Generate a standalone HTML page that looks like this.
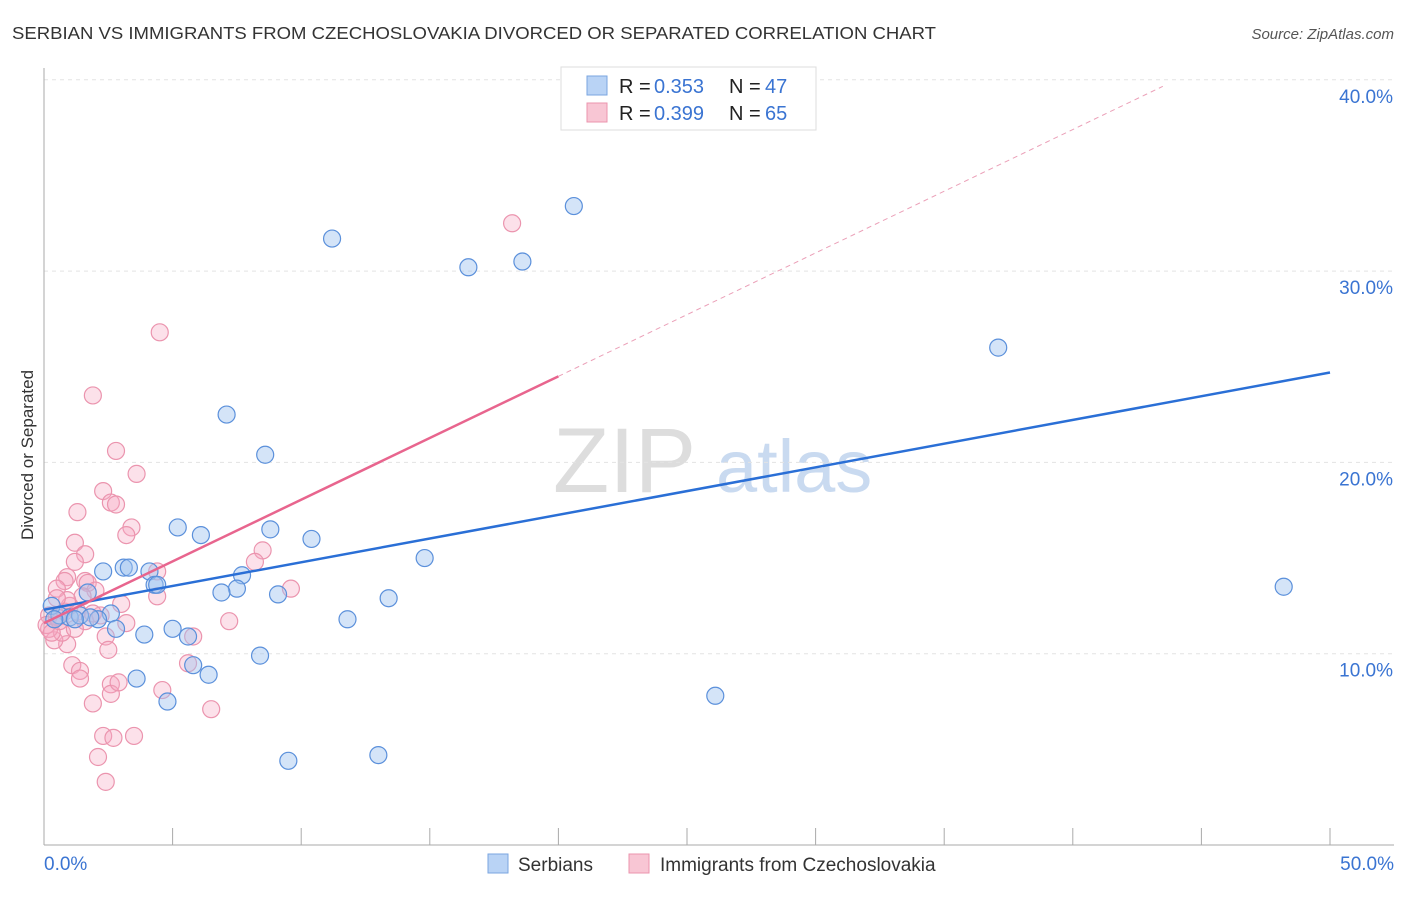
<!DOCTYPE html>
<html><head><meta charset="utf-8"><style>
body{margin:0;background:#fff;font-family:"Liberation Sans",sans-serif;}
svg text{font-family:"Liberation Sans",sans-serif;}
</style></head><body>
<svg id="chart" width="1406" height="892" xmlns="http://www.w3.org/2000/svg">
<text x="12" y="39" font-size="17.5" fill="#333" textLength="924" lengthAdjust="spacingAndGlyphs">SERBIAN VS IMMIGRANTS FROM CZECHOSLOVAKIA DIVORCED OR SEPARATED CORRELATION CHART</text>
<text x="1394" y="39" font-size="15" fill="#555" font-style="italic" text-anchor="end">Source: ZipAtlas.com</text>
<text x="33" y="455" font-size="17" fill="#333" text-anchor="middle" transform="rotate(-90 33 455)">Divorced or Separated</text>
<g><text x="553" y="492" font-size="92" fill="#ddd" font-family="Liberation Serif,serif">ZIP</text><text x="716" y="492" font-size="74" fill="#c9daf0">atlas</text></g>
<g id="grid"></g><g id="marks"></g><g id="lines"></g>
<g>
<rect x="561" y="67" width="255" height="63" fill="#fff" stroke="#ddd"/>
<rect x="587" y="76" width="20" height="19" fill="#b9d3f5" stroke="#7aa6e0"/>
<rect x="587" y="103" width="20" height="19" fill="#f8c6d4" stroke="#eb94ae"/>
<text x="619" y="93" font-size="20" fill="#222">R = </text><text x="654" y="93" font-size="20" fill="#3a74d2">0.353</text>
<text x="729" y="93" font-size="20" fill="#222">N = </text><text x="765" y="93" font-size="20" fill="#3a74d2">47</text>
<text x="619" y="120" font-size="20" fill="#222">R = </text><text x="654" y="120" font-size="20" fill="#3a74d2">0.399</text>
<text x="729" y="120" font-size="20" fill="#222">N = </text><text x="765" y="120" font-size="20" fill="#3a74d2">65</text>
</g>
<g>
<rect x="488" y="854" width="20" height="19" fill="#b9d3f5" stroke="#7aa6e0"/>
<text x="518" y="871" font-size="19" fill="#333">Serbians</text>
<rect x="629" y="854" width="20" height="19" fill="#f8c6d4" stroke="#eb94ae"/>
<text x="660" y="871" font-size="19" fill="#333">Immigrants from Czechoslovakia</text>
</g>
</svg>
<script>
const yTicks=[10,20,30,40];
const yTickLabels=["10.0%","20.0%","30.0%","40.0%"];
const xTickLabels=["0.0%","50.0%"];
const blueX=[20.6,11.2,16.5,18.6,37.1,48.2,7.1,8.6,5.2,6.1,8.8,10.4,14.8,2.3,3.1,3.3,4.1,4.3,4.4,7.7,7.5,6.9,9.1,13.4,11.8,2.6,1.7,2.1,2.8,3.9,5.0,5.6,5.8,6.4,8.4,3.6,4.8,26.1,9.5,13.0,0.3,0.6,1.0,1.4,0.4,1.8,1.2];
const blueY=[33.4,31.7,30.2,30.5,26.0,13.5,22.5,20.4,16.6,16.2,16.5,16.0,15.0,14.3,14.5,14.5,14.3,13.6,13.6,14.1,13.4,13.2,13.1,12.9,11.8,12.1,13.2,11.8,11.3,11.0,11.3,10.9,9.4,8.9,9.9,8.7,7.5,7.8,4.4,4.7,12.5,12.0,11.9,12.0,11.8,11.9,11.8];
const pinkX=[18.2,4.5,1.9,2.8,3.6,2.3,2.6,2.8,1.3,3.4,3.2,1.2,1.6,1.2,0.9,0.8,1.6,1.7,4.4,8.5,8.2,9.6,4.4,2.0,1.5,0.5,7.2,3.2,2.4,5.8,2.5,0.9,0.4,0.7,0.2,1.1,1.4,1.4,2.6,2.6,4.6,5.6,1.9,6.5,2.3,2.7,3.5,2.1,2.4,0.2,0.5,0.8,1.0,1.3,0.1,0.3,0.6,2.2,1.6,1.9,0.9,0.5,3.0,1.2,2.9];
const pinkY=[32.5,26.8,23.5,20.6,19.4,18.5,17.9,17.8,17.4,16.6,16.2,15.8,15.2,14.8,14.0,13.8,13.8,13.7,14.3,15.4,14.8,13.4,13.0,13.3,13.0,13.4,11.7,11.6,10.9,10.9,10.2,10.5,10.7,11.1,11.3,9.4,9.1,8.7,8.4,7.9,8.1,9.5,7.4,7.1,5.7,5.6,5.7,4.6,3.3,12.0,11.9,12.2,12.5,12.2,11.5,11.1,11.7,12.0,11.7,12.1,12.8,12.9,12.6,11.3,8.5];
const blueTrend=[12.3,24.7];
const pinkTrend=[11.6,0.645];
const NS="http://www.w3.org/2000/svg";
const X=v=>44+v*(1286/50), Y=v=>845-v*19.13;
function mk(tag,attrs,parent){const e=document.createElementNS(NS,tag);for(const k in attrs)e.setAttribute(k,attrs[k]);parent.appendChild(e);return e;}
const grid=document.getElementById('grid'),marks=document.getElementById('marks'),lines=document.getElementById('lines'),svg=document.getElementById('chart');
yTicks.forEach((t,i)=>{
 const l=mk('line',{x1:44,x2:1394,y1:Y(t),y2:Y(t),stroke:'#e3e3e3','stroke-dasharray':'4,4'},grid);
 
 
 const tx=mk('text',{x:1393,y:Y(t)+23,'font-size':19,fill:'#3a74d2','text-anchor':'end'},svg);tx.textContent=yTickLabels[i];
 
 
});
const ax=mk('line',{x1:44,x2:44,y1:68,y2:845,stroke:'#aaa'},grid);


const bx=mk('line',{x1:44,x2:1394,y1:845,y2:845,stroke:'#aaa'},grid);


for(let i=0;i<=10;i++){const t=mk('line',{x1:X(i*5),x2:X(i*5),y1:828,y2:845,stroke:'#aaa'},grid);
 
 }
[[0,'start',44],[50,'end',1394]].forEach((a,i)=>{const t=mk('text',{x:a[2],y:870,'font-size':19,fill:'#3a74d2','text-anchor':a[1]},svg);t.textContent=xTickLabels[i];
 
 });
function pts(xs,ys,fill,stroke,name){xs.forEach((x,i)=>{const c=mk('circle',{cx:X(x),cy:Y(ys[i]),r:8.5,fill:fill,stroke:stroke,'stroke-width':1.2},marks);
 
 });}
pts(pinkX,pinkY,'rgba(245,170,195,0.35)','#eb94ae','point-czechoslovakia');
pts(blueX,blueY,'rgba(160,195,240,0.45)','#5b90db','point-serbians');
const bl=mk('line',{x1:X(0),y1:Y(blueTrend[0]),x2:X(50),y2:Y(blueTrend[1]),stroke:'#2a6fd6','stroke-width':2.5},lines);


const pl=mk('line',{x1:X(0),y1:Y(pinkTrend[0]),x2:X(20),y2:Y(pinkTrend[0]+pinkTrend[1]*20),stroke:'#e8658e','stroke-width':2.5},lines);


const pd=mk('line',{x1:X(20),y1:Y(pinkTrend[0]+pinkTrend[1]*20),x2:X(43.5),y2:Y(pinkTrend[0]+pinkTrend[1]*43.5),stroke:'#eba0b8','stroke-width':1,'stroke-dasharray':'5,4'},lines);


</script>
</body></html>
